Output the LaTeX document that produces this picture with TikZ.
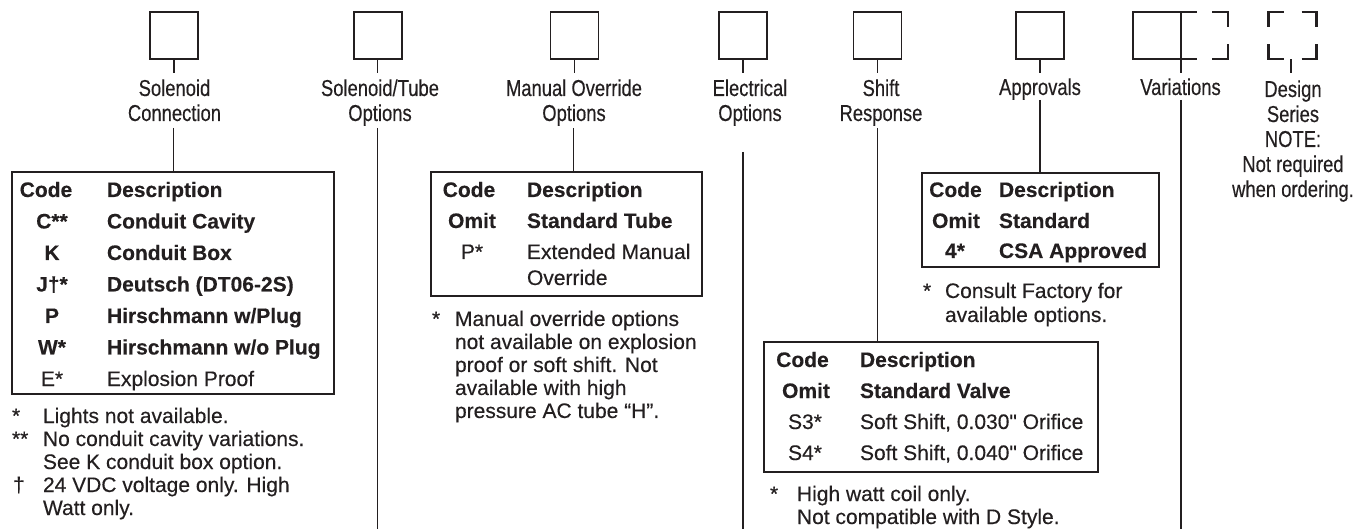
\documentclass[tikz,border=0pt]{standalone}
\usepackage{fontspec}
\setmainfont{Liberation Sans}[Ligatures=TeXOff, UprightFeatures={FakeBold=0.35}, BoldFeatures={FakeBold=0.25}]
\newfontfamily\condfont{Liberation Sans}[FakeStretch=0.80, FakeBold=0.35]
\usetikzlibrary{calc}
\definecolor{ink}{HTML}{231F20}
\newcommand\tf{\fontsize{21}{23}\selectfont}
\newcommand\lf{\condfont\fontsize{23}{25}\selectfont}
\newcommand\lines[1]{\begin{tabular}[t]{@{}l@{}}#1\end{tabular}}
\newcommand\clines[1]{\begin{tabular}[t]{@{}c@{}}#1\end{tabular}}
\tikzset{
  every node/.style={inner sep=0pt, outer sep=0pt, text=ink},
  sq/.style={draw=ink, line width=1.7pt, minimum width=48pt, minimum height=47pt},
  bx/.style={draw=ink, line width=1.7pt},
  dsn/.style={draw=ink, line width=2.4pt},
  tbl/.style={draw=ink, line width=1.8pt, anchor=north west},
  conn/.style={draw=ink, line width=1.5pt},
  lab/.style={anchor=base, font=\lf},
  cd/.style={anchor=base, font=\tf},
  ds/.style={anchor=base west, font=\tf},
  cdb/.style={anchor=base, font=\tf\bfseries},
  dsb/.style={anchor=base west, font=\tf\bfseries},
  fn/.style={anchor=base west, font=\tf},
}
\begin{document}
\begin{tikzpicture}[x=1pt,y=-1pt]
\useasboundingbox (0,0) rectangle (1355,529);

% ---------- top boxes ----------
\node[sq] (b1) at (174,35.8) {};
\node[sq] (b2) at (377.7,35.8) {};
\node[sq] (b3) at (574.5,35.8) {};
\node[sq] (b4) at (743,35.8) {};
\node[sq] (b5) at (877.5,35.8) {};
\node[sq] (b6) at (1040,35.8) {};
\node[sq] (b7) at (1157,35.8) {};
\node[sq, draw=none] (b8) at (1292.5,35.8) {};

% variations: open extension
\draw[bx] (b7.north east) -- ++(16,0);
\draw[bx] ($(b7.north east)+(31,0)$) -- ++(16,0) -- ++(0,15);
\draw[bx] (b7.south east) -- ++(16,0);
\draw[bx] ($(b7.south east)+(31,0)$) -- ++(16,0) -- ++(0,-15);

% design series: corner marks
\draw[dsn] ($(b8.north west)+(15,0)$) -- (b8.north west) -- ++(0,15);
\draw[dsn] ($(b8.north east)+(-15,0)$) -- (b8.north east) -- ++(0,15);
\draw[dsn] ($(b8.south west)+(15,0)$) -- (b8.south west) -- ++(0,-15);
\draw[dsn] ($(b8.south east)+(-15,0)$) -- (b8.south east) -- ++(0,-15);

% ticks under boxes
\coordinate (k1) at ($(b1.south)+(0,14)$);
\coordinate (k2) at ($(b2.south)+(0,14)$);
\coordinate (k3) at ($(b3.south)+(0,14)$);
\coordinate (k4) at ($(b4.south)+(0,14)$);
\coordinate (k5) at ($(b5.south)+(0,14)$);
\coordinate (k6) at ($(b6.south)+(0,14)$);
\coordinate (k7) at ($(b7.south east)+(0,14)$);
\coordinate (k8) at ($(b8.south)+(-1.5,14)$);
\draw[conn] (b1.south) -- (k1);
\draw[conn] (b2.south) -- (k2);
\draw[conn] (b3.south) -- (k3);
\draw[conn] (b4.south) -- (k4);
\draw[conn] (b5.south) -- (k5);
\draw[conn] (b6.south) -- (k6);
\draw[conn] (b7.south east) -- (k7);
\draw[conn] ($(b8.south)+(-1.5,0)$) -- (k8);

% ---------- labels ----------
\node[lab] (l1) at (174.5,96) {\clines{Solenoid\\Connection}};
\node[lab] (l2) at (380,96) {\clines{Solenoid/Tube\\Options}};
\node[lab] (l3) at (574,96) {\clines{Manual Override\\Options}};
\node[lab] (l4) at (750,96) {\clines{Electrical\\Options}};
\node[lab] (l5) at (881,96) {\clines{Shift\\Response}};
\node[lab] (l6) at (1040,95) {Approvals};
\node[lab] (l7) at (1180.5,95) {Variations};
\node[lab] (l8) at (1293,97) {\clines{Design\\Series\\NOTE:\\Not required\\when ordering.}};

% ---------- tables ----------
\node[tbl, minimum width=322pt, minimum height=222pt] (t1) at (12,172) {};
\node[tbl, minimum width=271pt, minimum height=124pt] (t2) at (431,172) {};
\node[tbl, minimum width=237pt, minimum height=94pt] (t3) at (922,173) {};
\node[tbl, minimum width=334pt, minimum height=130pt] (t4) at (764,342) {};

% connectors below labels
\coordinate (u1) at (173.5,128);
\coordinate (u2) at (377.7,128);
\coordinate (u3) at (573.5,128);
\coordinate (u4) at (743,152);
\coordinate (u5) at (877.5,128);
\coordinate (u6) at (1040,100);
\coordinate (u7) at (1181,100);
\coordinate (e2) at (377.7,529);
\coordinate (e4) at (743,529);
\coordinate (e7) at (1181,529);
\draw[conn] (u1) -- (u1 |- t1.north);
\draw[conn] (u2) -- (e2);
\draw[conn] (u3) -- (u3 |- t2.north);
\draw[conn] (u4) -- (e4);
\draw[conn] (u5) -- (u5 |- t4.north);
\draw[conn] (u6) -- (u6 |- t3.north);
\draw[conn] (u7) -- (e7);

% ---------- table 1 ----------
\node[cdb] (t1a0) at (46,197) {Code};
\node[dsb] (t1b0) at (107,197) {Description};
\node[cdb] (t1a1) at (52,228.5) {C**};
\node[dsb] (t1b1) at (107,228.5) {Conduit Cavity};
\node[cdb] (t1a2) at (52,260) {K};
\node[dsb] (t1b2) at (107,260) {Conduit Box};
\node[cdb] (t1a3) at (52,291.5) {J†*};
\node[dsb] (t1b3) at (107,291.5) {Deutsch (DT06-2S)};
\node[cdb] (t1a4) at (52,323) {P};
\node[dsb] (t1b4) at (107,323) {Hirschmann w/Plug};
\node[cdb] (t1a5) at (52,354.5) {W*};
\node[dsb] (t1b5) at (107,354.5) {Hirschmann w/o Plug};
\node[cd] (t1a6) at (52,386) {E*};
\node[ds] (t1b6) at (107,386) {Explosion Proof};
\node[fn] (f1s1) at (12,423) {*};
\node[fn] (f1s2) at (12,446) {**};
\node[fn] (f1s3) at (13,492) {†};
\node[fn] (f1t) at (43,423) {\lines{Lights not available.\\No conduit cavity variations.\\See K conduit box option.\\24 VDC voltage only. High\\Watt only.}};

% ---------- table 2 ----------
\node[cdb] (t2a0) at (469,197) {Code};
\node[dsb] (t2b0) at (527,197) {Description};
\node[cdb] (t2a1) at (472,228) {Omit};
\node[dsb] (t2b1) at (527,228) {Standard Tube};
\node[cd] (t2a2) at (472,259) {P*};
\node[ds] (t2b2) at (527,259) {\lines{Extended Manual\\[3pt]Override}};
\node[fn] (f2s) at (432,326) {*};
\node[fn] (f2t) at (455,326) {\lines{Manual override options\\not available on explosion\\proof or soft shift. Not\\available with high\\pressure AC tube “H”.}};

% ---------- table 3 ----------
\node[cdb] (t3a0) at (955.5,197) {Code};
\node[dsb] (t3b0) at (999,197) {Description};
\node[cdb] (t3a1) at (956,228) {Omit};
\node[dsb] (t3b1) at (999,228) {Standard};
\node[cdb] (t3a2) at (955,258) {4*};
\node[dsb] (t3b2) at (999,258) {CSA Approved};
\node[fn] (f3s) at (923,298) {*};
\node[fn] (f3t) at (945,298) {\lines{Consult Factory for\\[1pt]available options.}};

% ---------- table 4 ----------
\node[cdb] (t4a0) at (802.5,367) {Code};
\node[dsb] (t4b0) at (860,367) {Description};
\node[cdb] (t4a1) at (806,398) {Omit};
\node[dsb] (t4b1) at (860,398) {Standard Valve};
\node[cd] (t4a2) at (805,429) {S3*};
\node[ds] (t4b2) at (860,429) {Soft Shift, 0.030" Orifice};
\node[cd] (t4a3) at (805,460) {S4*};
\node[ds] (t4b3) at (860,460) {Soft Shift, 0.040" Orifice};
\node[fn] (f4s) at (770,501) {*};
\node[fn] (f4t) at (797,501) {\lines{High watt coil only.\\Not compatible with D Style.}};
\end{tikzpicture}
\end{document}
